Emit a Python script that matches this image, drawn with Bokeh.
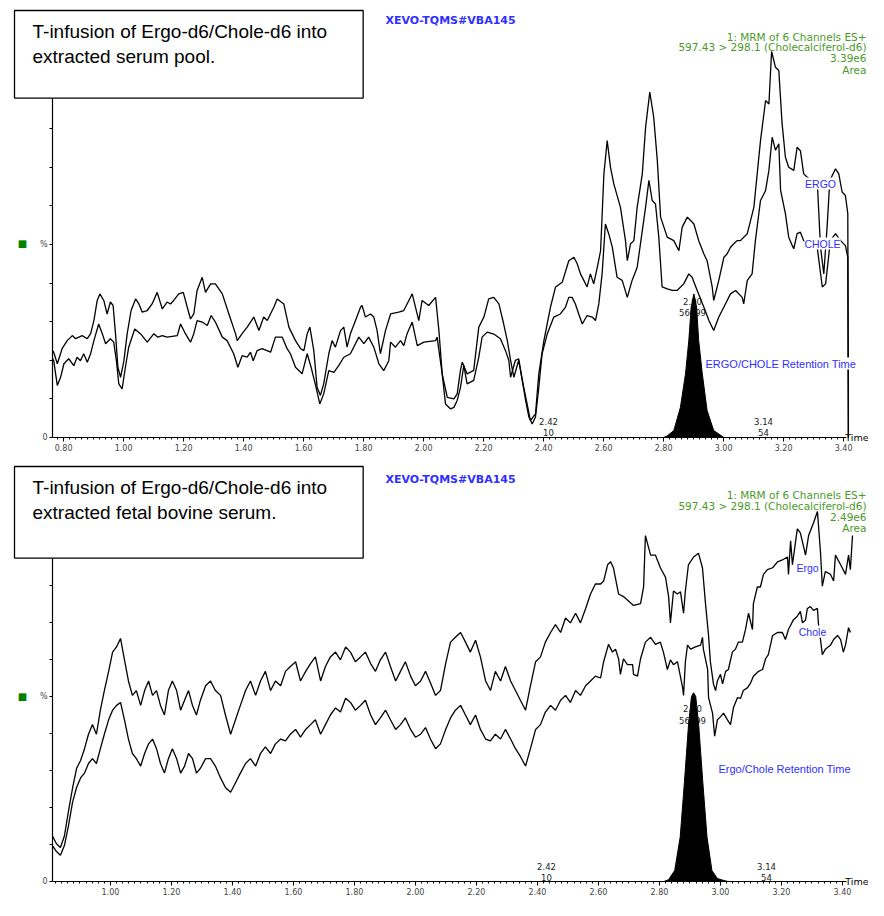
import numpy as np
from bokeh.plotting import figure
from bokeh.models import Label, Range1d, SingleIntervalTicker, FixedTicker, NumeralTickFormatter
from bokeh.layouts import column
from bokeh.embed import file_html
from bokeh.resources import INLINE
from bokeh.core.properties import value

# ---------------- Panel 1 : extracted serum pool (time in min, intensity in %) ----------------
ERGO1_T = [0.763, 0.767, 0.779, 0.795, 0.812, 0.829, 0.840, 0.851, 0.862, 0.879,
           0.890, 0.901, 0.912, 0.921, 0.934, 0.945, 0.956, 0.965, 0.973, 0.981,
           0.990, 1.001, 1.012, 1.025, 1.040, 1.051, 1.062, 1.079, 1.095, 1.112,
           1.129, 1.145, 1.156, 1.167, 1.184, 1.199, 1.212, 1.223, 1.234, 1.245,
           1.262, 1.273, 1.290, 1.306, 1.329, 1.351, 1.373, 1.379, 1.395, 1.412,
           1.434, 1.451, 1.467, 1.479, 1.501, 1.512, 1.534, 1.551, 1.573, 1.590,
           1.601, 1.612, 1.621, 1.634, 1.645, 1.656, 1.667, 1.684, 1.695, 1.706,
           1.723, 1.734, 1.745, 1.756, 1.773, 1.790, 1.795, 1.806, 1.823, 1.834,
           1.845, 1.856, 1.873, 1.890, 1.917, 1.934, 1.945, 1.962, 1.984, 1.995,
           2.017, 2.040, 2.051, 2.062, 2.079, 2.101, 2.112, 2.123, 2.129, 2.145,
           2.167, 2.184, 2.201, 2.217, 2.234, 2.251, 2.267, 2.279, 2.290, 2.301,
           2.317, 2.329, 2.345, 2.356, 2.373, 2.384, 2.401, 2.423, 2.440, 2.462,
           2.484, 2.501, 2.512, 2.523, 2.534, 2.545, 2.556, 2.567, 2.579, 2.590,
           2.601, 2.612, 2.623, 2.634, 2.656, 2.673, 2.679, 2.690, 2.701, 2.712,
           2.729, 2.740, 2.754, 2.767, 2.779, 2.790, 2.801, 2.812, 2.834, 2.851,
           2.862, 2.879, 2.890, 2.901, 2.917, 2.934, 2.945, 2.962, 2.967, 2.984,
           3.001, 3.012, 3.023, 3.034, 3.045, 3.056, 3.079, 3.101, 3.123, 3.140,
           3.151, 3.160, 3.173, 3.184, 3.195, 3.206, 3.217, 3.234, 3.245, 3.256,
           3.267, 3.279, 3.295, 3.312, 3.323, 3.334, 3.345, 3.354, 3.373, 3.384,
           3.395, 3.406, 3.414, 3.416]
ERGO1_Y = [22.5, 22.1, 19.1, 23.0, 25.1, 26.4, 25.6, 26.0, 26.4, 25.6,
           26.9, 30.3, 35.5, 37.2, 35.5, 32.0, 35.1, 34.2, 26.9, 18.2,
           15.6, 19.9, 26.9, 32.9, 35.9, 34.6, 32.5, 32.9, 34.6, 37.6,
           33.3, 35.1, 34.6, 35.5, 37.2, 37.6, 33.8, 30.7, 32.0, 38.1,
           41.5, 37.6, 39.8, 39.8, 37.2, 32.0, 26.9, 25.1, 26.9, 28.6,
           31.2, 27.7, 31.2, 30.3, 33.8, 35.9, 34.6, 28.6, 25.1, 23.0,
           22.5, 26.9, 28.6, 22.5, 13.0, 10.9, 13.9, 21.7, 25.1, 23.4,
           27.7, 28.6, 23.4, 26.9, 30.3, 33.8, 34.2, 31.2, 32.0, 31.2,
           27.7, 21.7, 27.7, 32.0, 32.5, 32.9, 34.6, 37.2, 30.3, 35.5,
           34.2, 36.3, 27.7, 16.5, 10.4, 10.0, 11.3, 17.5, 19.5, 16.5,
           17.4, 28.6, 31.2, 35.9, 36.3, 34.6, 29.4, 25.1, 20.0, 15.6,
           20.0, 14.8, 8.7, 4.4, 6.1, 16.5, 25.1, 33.8, 39.0, 40.2,
           45.8, 46.7, 45.0, 42.4, 40.7, 39.0, 42.4, 39.8, 44.1, 48.4,
           68.3, 76.9, 70.0, 65.7, 59.7, 51.0, 45.8, 50.2, 51.0, 59.7,
           68.3, 80.4, 89.5, 83.0, 71.8, 57.1, 54.5, 51.9, 51.0, 48.4,
           54.5, 57.1, 56.2, 55.3, 51.0, 47.6, 45.8, 39.0, 35.5, 40.7,
           46.7, 47.6, 49.3, 50.2, 51.0, 51.0, 52.8, 59.7, 76.9, 87.3,
           86.4, 100.0, 95.9, 95.1, 81.3, 72.6, 70.0, 69.2, 75.2, 74.3,
           68.3, 67.4, 66.6, 66.6, 49.3, 42.4, 54.5, 66.6, 69.6, 68.3,
           63.6, 62.7, 58.0, 0.0]

CHOLE1_T = [0.763, 0.767, 0.779, 0.790, 0.801, 0.817, 0.834, 0.845, 0.856, 0.867,
            0.879, 0.890, 0.901, 0.917, 0.929, 0.940, 0.956, 0.967, 0.976, 0.984,
            0.995, 1.006, 1.017, 1.037, 1.056, 1.079, 1.101, 1.114, 1.129, 1.145,
            1.179, 1.190, 1.206, 1.223, 1.234, 1.245, 1.262, 1.279, 1.292, 1.306,
            1.329, 1.345, 1.367, 1.381, 1.395, 1.412, 1.423, 1.432, 1.445, 1.462,
            1.490, 1.506, 1.529, 1.545, 1.556, 1.573, 1.595, 1.612, 1.625, 1.640,
            1.654, 1.667, 1.684, 1.701, 1.717, 1.734, 1.756, 1.784, 1.801, 1.817,
            1.834, 1.851, 1.867, 1.884, 1.890, 1.906, 1.923, 1.934, 1.945, 1.962,
            1.979, 2.001, 2.040, 2.045, 2.062, 2.073, 2.090, 2.101, 2.112, 2.123,
            2.134, 2.145, 2.167, 2.184, 2.195, 2.212, 2.234, 2.256, 2.273, 2.284,
            2.290, 2.306, 2.317, 2.329, 2.340, 2.351, 2.362, 2.373, 2.384, 2.395,
            2.412, 2.434, 2.456, 2.473, 2.484, 2.495, 2.506, 2.517, 2.529, 2.545,
            2.562, 2.573, 2.584, 2.595, 2.606, 2.617, 2.629, 2.645, 2.662, 2.679,
            2.695, 2.712, 2.729, 2.740, 2.751, 2.762, 2.773, 2.784, 2.795, 2.812,
            2.829, 2.845, 2.867, 2.884, 2.895, 2.912, 2.934, 2.951, 2.967, 2.984,
            3.001, 3.023, 3.040, 3.062, 3.067, 3.079, 3.095, 3.106, 3.123, 3.140,
            3.151, 3.162, 3.173, 3.184, 3.190, 3.206, 3.217, 3.229, 3.234, 3.245,
            3.256, 3.267, 3.290, 3.312, 3.329, 3.340, 3.356, 3.373, 3.390, 3.406,
            3.414, 3.416]
CHOLE1_Y = [20.5, 19.9, 13.5, 15.6, 19.1, 20.4, 18.6, 20.8, 19.9, 21.7,
            19.5, 21.7, 25.1, 29.4, 26.9, 24.3, 25.6, 24.7, 19.9, 13.9,
            12.6, 18.2, 23.4, 28.1, 26.9, 24.7, 26.9, 26.0, 26.4, 26.0,
            26.4, 29.4, 26.9, 24.7, 26.9, 30.3, 29.9, 29.0, 31.6, 29.9,
            26.0, 25.1, 21.7, 18.2, 21.2, 20.8, 22.1, 19.9, 22.5, 23.0,
            22.1, 26.0, 26.0, 23.0, 21.7, 18.2, 16.5, 21.7, 18.2, 13.5,
            8.7, 11.3, 17.3, 16.9, 18.6, 20.8, 21.7, 26.0, 24.3, 26.0,
            23.4, 19.1, 17.3, 19.9, 24.7, 23.4, 25.1, 23.8, 26.9, 29.9,
            23.8, 24.7, 25.1, 26.0, 16.5, 8.7, 7.4, 7.8, 9.6, 13.0,
            18.7, 13.9, 14.8, 20.8, 26.0, 27.3, 26.8, 25.6, 22.5, 20.0,
            15.6, 20.0, 20.4, 14.8, 9.6, 5.3, 3.5, 5.3, 13.0, 21.7,
            26.8, 31.2, 32.0, 33.8, 36.3, 36.3, 34.6, 32.0, 29.4, 31.6,
            31.2, 30.3, 34.6, 42.4, 55.3, 52.8, 49.3, 41.5, 40.7, 36.3,
            40.7, 44.1, 53.6, 59.7, 66.6, 61.4, 60.5, 51.9, 39.0, 38.5,
            38.1, 38.1, 39.8, 42.4, 41.5, 38.1, 33.8, 30.3, 27.7, 31.2,
            33.8, 37.2, 38.1, 36.3, 34.6, 40.7, 42.4, 51.0, 61.4, 64.0,
            69.2, 77.8, 74.4, 76.1, 64.0, 58.0, 51.9, 49.7, 48.9, 52.8,
            53.2, 51.0, 50.2, 49.3, 39.0, 39.8, 51.0, 52.8, 51.0, 49.7,
            46.7, 0.0]

PEAK1_T = [2.800, 2.812, 2.834, 2.856, 2.873, 2.884, 2.892, 2.901, 2.910, 2.917, 2.929, 2.945, 2.967, 3.001]
PEAK1_Y = [0.0, 0.4, 1.8, 7.8, 16.5, 25.1, 33.8, 37.2, 33.8, 25.1, 16.5, 7.0, 1.8, 0.0]

# ---------------- Panel 2 : extracted fetal bovine serum ----------------
ERGO2_T = [0.810, 0.823, 0.836, 0.849, 0.862, 0.876, 0.889, 0.902, 0.915, 0.928,
           0.941, 0.954, 0.967, 0.980, 0.994, 1.007, 1.020, 1.033, 1.046, 1.059,
           1.072, 1.085, 1.099, 1.112, 1.125, 1.138, 1.151, 1.164, 1.177, 1.190,
           1.203, 1.217, 1.230, 1.243, 1.256, 1.269, 1.282, 1.295, 1.312, 1.328,
           1.344, 1.361, 1.377, 1.394, 1.410, 1.426, 1.443, 1.459, 1.476, 1.492,
           1.508, 1.525, 1.541, 1.558, 1.574, 1.590, 1.607, 1.623, 1.640, 1.656,
           1.672, 1.689, 1.705, 1.721, 1.738, 1.754, 1.771, 1.787, 1.803, 1.820,
           1.836, 1.853, 1.869, 1.885, 1.902, 1.918, 1.935, 1.951, 1.967, 1.984,
           2.000, 2.017, 2.033, 2.049, 2.066, 2.082, 2.099, 2.115, 2.131, 2.148,
           2.164, 2.180, 2.197, 2.213, 2.230, 2.246, 2.262, 2.279, 2.295, 2.312,
           2.328, 2.344, 2.361, 2.377, 2.394, 2.410, 2.426, 2.443, 2.459, 2.476,
           2.492, 2.508, 2.525, 2.541, 2.558, 2.574, 2.590, 2.607, 2.617, 2.630,
           2.640, 2.649, 2.666, 2.682, 2.715, 2.738, 2.748, 2.754, 2.771, 2.787,
           2.803, 2.820, 2.830, 2.836, 2.843, 2.846, 2.859, 2.869, 2.879, 2.885,
           2.895, 2.912, 2.928, 2.941, 2.951, 2.961, 2.967, 2.977, 2.984, 2.990,
           3.000, 3.007, 3.017, 3.026, 3.039, 3.049, 3.059, 3.072, 3.082, 3.092,
           3.105, 3.108, 3.121, 3.131, 3.141, 3.154, 3.171, 3.187, 3.203, 3.220,
           3.223, 3.230, 3.236, 3.252, 3.262, 3.279, 3.289, 3.305, 3.318, 3.328,
           3.334, 3.344, 3.361, 3.371, 3.377, 3.394, 3.410, 3.420, 3.426, 3.433]
ERGO2_Y = [12.3, 10.2, 9.2, 12.3, 18.8, 25.4, 30.6, 32.7, 35.9, 39.8,
           42.4, 39.8, 46.3, 51.6, 56.8, 62.0, 63.4, 65.7, 59.9, 54.2,
           50.3, 51.6, 47.6, 51.6, 54.2, 50.3, 51.6, 47.6, 45.0, 51.6,
           54.2, 51.6, 46.3, 49.0, 51.6, 47.6, 45.0, 49.0, 52.9, 54.2,
           51.6, 50.3, 45.0, 39.8, 43.7, 47.6, 51.6, 54.2, 50.3, 54.2,
           56.8, 51.6, 54.2, 52.9, 56.8, 58.1, 59.4, 54.2, 56.8, 58.9,
           60.7, 54.2, 58.1, 60.7, 62.0, 59.9, 63.4, 62.0, 59.4, 60.7,
           62.0, 58.9, 56.8, 59.9, 62.0, 58.1, 54.2, 56.8, 59.4, 55.5,
           52.9, 54.2, 56.8, 53.7, 50.3, 51.6, 58.9, 64.7, 66.0, 67.3,
           64.7, 62.0, 65.2, 60.7, 54.2, 51.6, 56.8, 54.2, 58.1, 54.2,
           51.6, 49.0, 46.3, 52.9, 59.4, 60.7, 64.7, 67.3, 69.4, 67.3,
           71.2, 69.9, 72.5, 69.9, 73.8, 77.7, 80.4, 80.4, 81.2, 85.6,
           86.4, 84.8, 77.7, 77.0, 74.6, 75.1, 79.6, 93.5, 88.2, 88.2,
           84.8, 82.2, 77.0, 69.9, 75.9, 78.5, 77.7, 78.3, 72.5, 78.5,
           85.6, 87.7, 88.7, 84.8, 75.1, 66.5, 59.4, 53.4, 51.6, 54.2,
           56.0, 53.4, 56.8, 57.3, 62.0, 62.8, 64.7, 64.7, 68.1, 72.5,
           68.1, 75.1, 79.6, 79.6, 83.0, 84.3, 84.8, 86.4, 86.9, 87.7,
           83.0, 92.1, 85.6, 95.3, 94.2, 88.2, 93.5, 96.9, 100.0, 89.0,
           79.8, 83.8, 83.0, 81.2, 88.2, 85.6, 83.0, 88.2, 84.3, 93.5]

CHOLE2_T = [0.810, 0.823, 0.836, 0.849, 0.862, 0.876, 0.889, 0.902, 0.915, 0.928,
            0.941, 0.954, 0.967, 0.980, 0.994, 1.007, 1.020, 1.033, 1.046, 1.059,
            1.072, 1.085, 1.099, 1.112, 1.125, 1.138, 1.151, 1.164, 1.177, 1.190,
            1.203, 1.217, 1.230, 1.243, 1.256, 1.269, 1.282, 1.295, 1.312, 1.328,
            1.344, 1.361, 1.377, 1.394, 1.410, 1.426, 1.443, 1.459, 1.476, 1.492,
            1.508, 1.525, 1.541, 1.558, 1.574, 1.590, 1.607, 1.623, 1.640, 1.656,
            1.672, 1.689, 1.705, 1.721, 1.738, 1.754, 1.771, 1.787, 1.803, 1.820,
            1.836, 1.853, 1.869, 1.885, 1.902, 1.918, 1.935, 1.951, 1.967, 1.984,
            2.000, 2.017, 2.033, 2.049, 2.066, 2.082, 2.099, 2.115, 2.131, 2.148,
            2.164, 2.180, 2.197, 2.213, 2.230, 2.246, 2.262, 2.279, 2.295, 2.312,
            2.328, 2.344, 2.361, 2.377, 2.394, 2.410, 2.426, 2.443, 2.459, 2.476,
            2.492, 2.508, 2.525, 2.541, 2.558, 2.574, 2.590, 2.607, 2.617, 2.633,
            2.646, 2.656, 2.666, 2.672, 2.682, 2.695, 2.712, 2.715, 2.728, 2.738,
            2.754, 2.771, 2.787, 2.803, 2.813, 2.826, 2.836, 2.846, 2.859, 2.876,
            2.879, 2.885, 2.892, 2.902, 2.918, 2.935, 2.941, 2.944, 2.958, 2.961,
            2.974, 2.981, 2.990, 3.000, 3.010, 3.023, 3.033, 3.043, 3.056, 3.066,
            3.075, 3.089, 3.099, 3.108, 3.125, 3.138, 3.148, 3.157, 3.171, 3.187,
            3.203, 3.213, 3.223, 3.239, 3.252, 3.262, 3.269, 3.279, 3.285, 3.295,
            3.305, 3.318, 3.321, 3.328, 3.334, 3.344, 3.361, 3.371, 3.384, 3.394,
            3.403, 3.410, 3.420, 3.426]
CHOLE2_Y = [9.7, 8.1, 7.1, 9.7, 14.9, 21.5, 25.4, 28.0, 29.3, 31.9,
            33.2, 31.9, 35.9, 39.8, 43.7, 46.3, 47.6, 48.4, 43.7, 38.5,
            34.6, 33.2, 31.2, 34.6, 37.2, 38.5, 35.9, 31.9, 29.3, 33.2,
            35.9, 33.2, 29.3, 31.2, 34.6, 33.2, 29.3, 30.6, 33.2, 33.2,
            31.2, 28.0, 25.4, 24.1, 26.7, 29.3, 31.9, 33.2, 31.2, 34.6,
            36.4, 34.6, 37.2, 38.5, 38.0, 39.8, 41.1, 39.0, 41.1, 42.4,
            43.7, 39.8, 42.4, 45.0, 46.9, 45.8, 49.5, 48.4, 46.3, 47.6,
            49.0, 45.0, 42.4, 44.2, 46.3, 43.7, 41.1, 42.4, 44.2, 41.1,
            39.0, 39.8, 41.6, 38.5, 35.9, 37.2, 41.1, 44.2, 46.3, 47.6,
            45.0, 42.4, 45.0, 41.1, 38.5, 38.0, 39.8, 38.5, 41.1, 38.5,
            35.9, 33.8, 31.2, 35.9, 41.1, 42.4, 45.8, 47.6, 46.3, 49.0,
            50.3, 48.4, 51.6, 50.3, 52.9, 54.2, 55.5, 55.0, 59.4, 64.1,
            62.0, 62.8, 60.2, 56.0, 60.2, 58.6, 58.6, 56.0, 55.5, 60.2,
            64.7, 66.0, 64.1, 64.7, 62.0, 57.3, 59.9, 58.6, 59.4, 52.4,
            50.3, 59.4, 63.9, 62.8, 63.4, 63.9, 66.0, 62.8, 57.3, 49.7,
            45.5, 39.3, 43.7, 44.5, 45.5, 43.7, 42.4, 47.1, 49.7, 49.5,
            51.6, 52.4, 53.7, 55.5, 56.8, 57.3, 60.2, 61.3, 66.5, 67.3,
            67.3, 65.4, 68.1, 70.7, 71.7, 73.0, 69.9, 70.7, 73.8, 74.3,
            73.3, 73.8, 69.9, 65.4, 61.3, 62.8, 63.9, 65.4, 66.5, 65.4,
            62.0, 63.9, 68.6, 67.3]

PEAK2_T = [2.815, 2.830, 2.850, 2.868, 2.882, 2.895, 2.905, 2.912, 2.919, 2.929, 2.942, 2.956, 2.972, 2.990, 3.010, 3.025]
PEAK2_Y = [0.0, 0.5, 3.0, 12.0, 27.0, 42.0, 50.0, 51.0, 50.0, 42.0, 27.0, 12.0, 3.0, 0.8, 0.3, 0.0]

X_TICK_STEP = 0.2
Y_TICKS = [0, 10, 20, 30, 40, 50, 60, 70, 80, 90, 100]

FONT = "Liberation Sans"
MLFONT = "DejaVu Sans"
BLUE = "#2f2fff"
GREEN = "#4a9a28"
W = 868


class Geo:
    """Maps positions measured on the reference picture to data coordinates for one panel."""
    def __init__(self, t0, px_per_t, zero_ref, k_ref, zero_img, k_img, hshift, top, height):
        self.t0, self.s = t0, px_per_t
        self.zref, self.kref, self.zimg, self.kimg = zero_ref, k_ref, zero_img, k_img
        self.hs, self.top, self.h = hshift, top, height

    def t(self, x):
        return self.t0 + (x - 52) / self.s

    def pct(self, y):           # header items
        return (self.zimg - (y - self.hs)) / self.kimg

    def pct_tr(self, y):        # items tied to the traces
        return (self.zref - y) / self.kref

    def xr(self):
        return Range1d(self.t(0), self.t(W))

    def yr(self):
        return Range1d((self.zimg - (self.top + self.h)) / self.kimg, (self.zimg - self.top) / self.kimg)


def make_panel(g):
    p = figure(width=W, height=g.h, x_range=g.xr(), y_range=g.yr(),
               output_backend="svg", toolbar_location=None,
               min_border_left=0, min_border_right=0, min_border_top=0, min_border_bottom=0)
    p.title.visible = False
    p.xgrid.visible = False
    p.ygrid.visible = False
    p.outline_line_color = None
    p.background_fill_color = "white"
    p.border_fill_color = "white"
    ax = p.xaxis[0]
    ax.fixed_location = 0
    ax.bounds = (g.t0, g.t(846))
    ax.ticker = SingleIntervalTicker(interval=X_TICK_STEP, num_minor_ticks=10)
    ax.formatter = NumeralTickFormatter(format="0.00")
    ax.major_tick_out = 4
    ax.major_tick_in = 0
    ax.minor_tick_out = 2
    ax.minor_tick_in = 0
    ax.axis_line_width = 1.2
    ax.major_label_text_font = MLFONT
    ax.major_label_text_font_size = "8px"
    ax.major_label_standoff = 2
    ay = p.yaxis[0]
    ay.fixed_location = g.t0
    ay.bounds = (0, 108)
    ay.ticker = FixedTicker(ticks=Y_TICKS, minor_ticks=[])
    ay.major_label_overrides = {t: ("0" if t == 0 else ("%" if t == 50 else "")) for t in Y_TICKS}
    ay.major_tick_out = 3
    ay.major_tick_in = 0
    ay.axis_line_width = 1.2
    ay.major_label_text_font = MLFONT
    ay.major_label_text_font_size = "8px"
    ay.major_label_standoff = 2
    return p


def lab(p, xy, text, size, color, align="left", baseline="middle", bold=False, bg=None, font=FONT):
    l = Label(x=xy[0], y=xy[1], text=text, text_font=font, text_font_size=f"{size}px",
              text_color=color, text_align=align, text_baseline=baseline,
              text_font_style="bold" if bold else "normal")
    if bg:
        l.background_fill_color = bg
    p.add_layout(l)


def box(p, xy, text, bottom_pad):
    l = Label(x=xy[0], y=xy[1], text=text, text_font=FONT, text_font_size="19px",
              text_color="black", text_align="left", text_baseline="top", anchor="top_left",
              text_line_height=1.22,
              padding=dict(left=18, right=36, top=10, bottom=bottom_pad),
              border_line_color="black", border_line_width=1.3,
              background_fill_color="white")
    p.add_layout(l)


def peak_texts(p, xs, ys, texts):
    p.text(x=xs, y=ys, text=texts, text_font=value(MLFONT), text_font_size=value("8.5px"),
           text_color="#222222", text_align="center", text_baseline="middle")


def draw(p, et, ey, ct, cy, pt, py):
    p.line(et, ey, line_color="black", line_width=1.3)
    p.line(ct, cy, line_color="black", line_width=1.3)
    p.varea(x=pt, y1=np.zeros(len(pt)), y2=py, fill_color="black")
    p.line(pt, py, line_color="black", line_width=1)


def headers(p, g, ybox, text, yx, ygreen, scale_txt, pad):
    box(p, (g.t(14), g.pct(ybox)), text, pad)
    lab(p, (g.t(385), g.pct(yx)), "XEVO-TQMS#VBA145", 11, BLUE, bold=True, font=MLFONT)
    txts = ["1: MRM of 6 Channels ES+", "597.43 > 298.1 (Cholecalciferol-d6)", scale_txt, "Area"]
    for yy, txt in zip(ygreen, txts):
        lab(p, (g.t(866), g.pct(yy)), txt, 10.5, GREEN, align="right", font=MLFONT)


# ---------------- panel 1 ----------------
g1 = Geo(0.763, 300.0, 437, 3.86, 437, 3.86, 0, 0, 452)
p1 = make_panel(g1)
peak_texts(p1, [g1.t(692), g1.t(692), g1.t(548), g1.t(548), g1.t(763), g1.t(763)],
           [g1.pct_tr(301), g1.pct_tr(312), g1.pct_tr(421), g1.pct_tr(432), g1.pct_tr(421), g1.pct_tr(432)],
           ["2.90", "56699", "2.42", "10", "3.14", "54"])
draw(p1, ERGO1_T, ERGO1_Y, CHOLE1_T, CHOLE1_Y, PEAK1_T, PEAK1_Y)
headers(p1, g1, 10, "T-infusion of Ergo-d6/Chole-d6 into\nextracted serum pool.", 20, [36, 46, 57, 69], "3.39e6", 31)
lab(p1, (g1.t(820), g1.pct_tr(183)), "ERGO", 10.5, BLUE, align="center", bg="white")
lab(p1, (g1.t(822), g1.pct_tr(243)), "CHOLE", 10.5, BLUE, align="center", bg="white")
lab(p1, (g1.t(705), g1.pct_tr(363)), "ERGO/CHOLE Retention Time", 11, BLUE, bg="white")
lab(p1, (g1.t(868), g1.pct_tr(437)), "Time", 9.5, "black", align="right", font=MLFONT)
lab(p1, (g1.t(22), g1.pct_tr(243)), "■", 10, "#008000", align="center", font=MLFONT)

# ---------------- panel 2 ----------------
g2 = Geo(0.810, 305.0, 897, 3.82, 881, 3.70, 2, 452, 448)
p2 = make_panel(g2)
peak_texts(p2, [g2.t(692), g2.t(692), g2.t(546), g2.t(546), g2.t(766), g2.t(766)],
           [g2.pct_tr(718), g2.pct_tr(731), g2.pct_tr(882), g2.pct_tr(893), g2.pct_tr(882), g2.pct_tr(893)],
           ["2.90", "56699", "2.42", "10", "3.14", "54"])
draw(p2, ERGO2_T, ERGO2_Y, CHOLE2_T, CHOLE2_Y, PEAK2_T, PEAK2_Y)
headers(p2, g2, 468, "T-infusion of Ergo-d6/Chole-d6 into\nextracted fetal bovine serum.", 481, [496, 507, 518, 529], "2.49e6", 35)
lab(p2, (g2.t(807), g2.pct_tr(573)), "Ergo", 10.5, BLUE, align="center", bg="white")
lab(p2, (g2.t(812), g2.pct_tr(639)), "Chole", 10.5, BLUE, align="center", bg="white")
lab(p2, (g2.t(718), g2.pct_tr(781)), "Ergo/Chole Retention Time", 11, BLUE, bg="white")
lab(p2, (g2.t(868), g2.pct_tr(897)), "Time", 9.5, "black", align="right", font=MLFONT)
lab(p2, (g2.t(22), g2.pct_tr(706)), "■", 10, "#008000", align="center", font=MLFONT)

layout = column(p1, p2)
open("out.html", "w").write(file_html(layout, INLINE))
